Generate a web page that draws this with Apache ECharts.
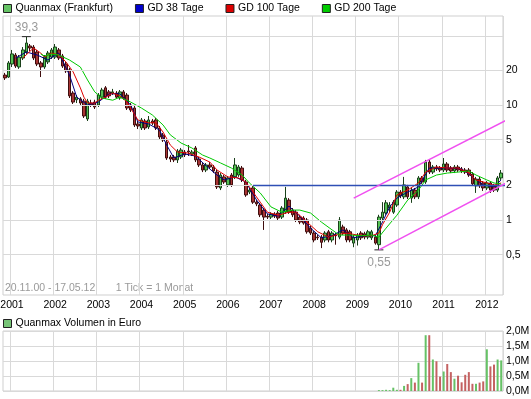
<!DOCTYPE html>
<html>
<head>
<meta charset="utf-8">
<script src="https://cdn.jsdelivr.net/npm/echarts@6.0.0/dist/echarts.min.js"></script>
<style>
    html, body { margin: 0; padding: 0; background: #fff; }
    #main { width: 531px; height: 399px; }
</style>
</head>
<body>
<div id="main"></div>
<script>
// Quanmax (Frankfurt), Monatskerzen 11/2000 - 05/2012: [Eroeffnung, Schluss, Tief, Hoch]
var candles = [
    [18.2, 17.2, 16.5, 19.0], [17.5, 23.2, 17.2, 24.1],
    // 2001
    [22.7, 27.8, 21.4, 30.1], [27.2, 21.8, 21.0, 28.3], [21.4, 26.1, 20.6, 27.2], [25.6, 30.1, 24.6, 31.9],
    [28.9, 34.6, 27.8, 39.3], [32.6, 31.3, 29.5, 33.9], [31.9, 25.6, 24.6, 33.2], [28.9, 22.7, 21.8, 30.1],
    [23.2, 21.4, 17.5, 24.1], [21.4, 26.1, 20.6, 27.2], [23.7, 28.3, 22.7, 29.5], [26.1, 30.1, 25.1, 31.3],
    // 2002
    [26.1, 31.9, 25.1, 33.9], [30.1, 25.6, 24.6, 31.3], [26.7, 21.8, 21.0, 27.8], [22.7, 19.8, 19.0, 23.7],
    [20.2, 12.0, 11.5, 21.0], [12.7, 10.6, 10.2, 13.2], [11.1, 11.7, 10.4, 12.2], [11.3, 10.4, 10.0, 11.7],
    [10.8, 8.02, 7.71, 11.3], [7.56, 10.8, 7.26, 11.3], [10.4, 10.0, 9.61, 11.1], [10.6, 9.61, 9.23, 11.1],
    // 2003
    [10.0, 12.2, 9.61, 12.7], [11.7, 13.5, 11.3, 14.1], [14.1, 11.7, 11.3, 14.6], [13.0, 12.0, 11.5, 13.5],
    [12.7, 13.0, 12.2, 13.8], [12.7, 11.7, 11.3, 13.2], [11.5, 13.0, 11.1, 13.5], [13.0, 11.5, 11.1, 13.5],
    [12.2, 9.42, 9.05, 12.7], [10.0, 9.05, 8.69, 10.4], [9.42, 6.70, 6.44, 9.80], [6.84, 6.57, 6.18, 7.26],
    // 2004
    [6.31, 7.41, 6.06, 7.71], [7.26, 6.31, 6.06, 7.56], [6.44, 7.41, 6.18, 8.02], [7.26, 6.97, 6.70, 7.56],
    [7.41, 6.31, 6.06, 7.71], [6.31, 5.27, 5.06, 6.57], [5.48, 4.96, 4.77, 5.71], [4.77, 3.46, 3.33, 4.96],
    [3.53, 3.39, 3.19, 3.68], [3.53, 3.33, 3.19, 3.68], [3.33, 3.98, 3.13, 4.14], [3.53, 4.06, 3.39, 4.23],
    // 2005
    [3.90, 3.68, 3.53, 4.06], [3.98, 3.90, 3.60, 4.49], [3.75, 3.90, 3.60, 4.06], [4.23, 3.33, 3.19, 4.40],
    [3.39, 3.01, 2.89, 3.53], [3.01, 2.72, 2.61, 3.13], [2.72, 3.01, 2.61, 3.13], [3.01, 2.89, 2.78, 3.19],
    [2.89, 2.67, 2.56, 3.01], [2.61, 1.94, 1.86, 2.72], [1.90, 2.46, 1.82, 2.56], [2.37, 2.14, 2.06, 2.46],
    // 2006
    [2.02, 2.32, 1.94, 2.41], [2.46, 2.02, 1.94, 2.56], [2.37, 3.01, 2.27, 3.46], [2.46, 2.89, 2.37, 3.01],
    [2.83, 2.23, 2.14, 2.95], [2.14, 1.65, 1.59, 2.23], [1.75, 1.82, 1.68, 1.90], [1.90, 1.43, 1.38, 1.98],
    [1.43, 1.38, 1.32, 1.49], [1.35, 1.11, 1.06, 1.41], [1.22, 1.06, 0.82, 1.27], [1.08, 1.06, 1.02, 1.13],
    // 2007
    [1.06, 1.13, 1.02, 1.17], [1.13, 1.08, 1.04, 1.17], [1.15, 1.04, 1.00, 1.20], [1.06, 1.27, 1.02, 1.32],
    [1.17, 1.55, 1.13, 1.94], [1.49, 1.17, 1.13, 1.55], [1.22, 1.11, 1.06, 1.27], [1.17, 1.00, 0.96, 1.22],
    [1.06, 0.96, 0.92, 1.11], [1.04, 0.94, 0.91, 1.08], [1.00, 0.79, 0.76, 1.04], [0.85, 0.77, 0.74, 0.89],
    // 2008
    [0.77, 0.67, 0.64, 0.80], [0.71, 0.70, 0.67, 0.74], [0.71, 0.64, 0.57, 0.74], [0.67, 0.77, 0.64, 0.80],
    [0.79, 0.67, 0.64, 0.82], [0.67, 0.77, 0.64, 0.80], [0.74, 0.73, 0.61, 0.77], [0.71, 1.00, 0.68, 1.06],
    [0.87, 0.77, 0.74, 0.91], [0.82, 0.67, 0.64, 0.85], [0.79, 0.67, 0.64, 0.82], [0.63, 0.71, 0.58, 0.74],
    // 2009
    [0.67, 0.74, 0.60, 0.77], [0.77, 0.70, 0.67, 0.80], [0.76, 0.71, 0.68, 0.79], [0.71, 0.79, 0.68, 0.82],
    [0.70, 0.79, 0.67, 0.82], [0.71, 0.63, 0.61, 0.74], [0.61, 1.06, 0.55, 1.11], [1.04, 1.17, 1.00, 1.43],
    [1.15, 1.41, 1.11, 1.49], [1.27, 1.35, 1.17, 1.43], [1.17, 1.43, 1.13, 1.49], [1.35, 1.75, 1.30, 1.82],
    // 2010
    [1.75, 1.62, 1.55, 1.82], [1.59, 2.02, 1.52, 2.37], [1.94, 1.59, 1.52, 2.02], [1.55, 1.82, 1.41, 1.90],
    [1.82, 1.59, 1.52, 1.90], [1.59, 2.32, 1.52, 2.41], [2.32, 2.14, 2.06, 2.41], [2.14, 3.19, 2.06, 3.33],
    [3.19, 2.61, 2.51, 3.33], [2.61, 2.89, 2.51, 3.01], [2.89, 2.78, 2.67, 3.01], [2.83, 2.72, 2.61, 2.95],
    // 2011
    [2.72, 3.07, 2.61, 3.46], [3.07, 2.72, 2.61, 3.19], [2.83, 2.67, 2.56, 2.95], [2.67, 2.89, 2.56, 3.01],
    [2.89, 2.72, 2.61, 3.01], [2.78, 2.67, 2.56, 2.89], [2.72, 2.61, 2.51, 2.83], [2.72, 2.46, 2.37, 2.83],
    [2.51, 2.06, 1.98, 2.61], [1.98, 2.27, 1.72, 2.37], [2.27, 1.98, 1.90, 2.37], [2.10, 1.90, 1.79, 2.18],
    // 2012
    [1.90, 2.10, 1.82, 2.18], [2.10, 1.82, 1.72, 2.18], [1.98, 1.82, 1.75, 2.06], [1.82, 2.32, 1.75, 2.41],
    [2.32, 2.56, 2.23, 2.72]
];

// Umsatz in Mio. Euro, ab 07/2009
var volumeFrom = '2009-07';
var volume = [0.03, 0.03, 0.04, 0.03, 0.11, 0.04, 0.04, 0.17, 0.23, 0.43, 0.28, 0.94, 0.28, 1.86, 1.86,
    1.05, 0.99, 0.48, 0.65, 0.90, 0.63, 0.41, 0.51, 0.29, 0.54, 0.63, 0.24, 0.24, 0.28, 0.32, 1.39,
    0.82, 0.88, 1.05, 1.02];

// gleitende Durchschnitte: [Monatsindex, Kurs]
var gd38 = [[3, 25.6], [6, 28.9], [9, 27.2], [12, 24.6], [15, 28.3], [18, 18.2], [20, 11.7], [23, 10.0],
    [26, 10.6], [29, 12.5], [32, 12.5], [35, 10.0], [37, 7.12], [40, 6.84], [43, 6.06], [45, 4.49],
    [47, 3.46], [50, 3.75], [53, 3.60], [56, 2.95], [59, 2.46], [61, 2.23], [64, 2.37], [67, 2.14],
    [70, 1.49], [73, 1.13], [76, 1.08], [79, 1.32], [82, 1.08], [85, 0.85], [88, 0.70], [91, 0.73],
    [94, 0.82], [97, 0.70], [100, 0.73], [103, 0.73], [105, 0.96], [107, 1.30], [109, 1.55], [112, 1.75],
    [115, 1.94], [118, 2.83], [121, 2.83], [124, 2.83], [127, 2.78], [130, 2.37], [133, 2.02], [136, 1.94],
    [138, 2.23]];
var gd100 = [[5, 25.6], [8, 31.3], [10, 28.3], [11, 26.1], [13, 28.3], [15, 27.2], [17, 23.7], [19, 19.4],
    [21, 14.1], [22, 11.7], [23, 10.4], [25, 10.4], [26, 11.0], [28, 11.7], [30, 12.7], [32, 12.0],
    [34, 10.6], [35, 9.4], [37, 7.4], [40, 7.0], [42, 7.0], [44, 5.82], [46, 4.49], [48, 3.90], [51, 3.82],
    [54, 3.53], [57, 3.19], [59, 2.72], [62, 2.37], [65, 2.32], [67, 2.14], [68, 1.94], [71, 1.43],
    [73, 1.17], [76, 1.10], [79, 1.17], [81, 1.17], [84, 0.96], [87, 0.79], [90, 0.71], [92, 0.74],
    [95, 0.77], [98, 0.74], [100, 0.73], [102, 0.73], [104, 0.77], [105, 0.91], [107, 1.17], [109, 1.65],
    [112, 1.82], [115, 2.10], [117, 2.61], [120, 2.89], [123, 2.83], [126, 2.83], [129, 2.56], [131, 2.23],
    [134, 2.10], [136, 2.01], [138, 2.10]];
var gd200 = [[10, 27.7], [11, 26.7], [13, 27.7], [15, 27.2], [18, 24.6], [21, 21.4], [23, 16.5], [25, 13.0],
    [27, 11.5], [30, 11.0], [32, 11.7], [35, 10.6], [38, 9.4], [41, 8.2], [44, 6.7], [46, 5.5], [49, 4.67],
    [52, 4.23], [55, 3.67], [57, 3.46], [60, 3.13], [63, 2.83], [66, 2.46], [68, 2.10], [71, 1.72],
    [74, 1.30], [77, 1.17], [80, 1.22], [82, 1.22], [85, 1.15], [88, 0.96], [91, 0.82], [93, 0.74],
    [96, 0.74], [99, 0.73], [102, 0.74], [104, 0.71], [106, 0.85], [109, 1.10], [112, 1.49], [115, 1.82],
    [117, 2.23], [120, 2.46], [123, 2.56], [126, 2.61], [129, 2.67], [131, 2.46], [134, 2.23], [136, 2.10],
    [138, 2.05]];

// eingezeichnete Linien: Unterstuetzung und Trendkanal
var support = [[69, 2.0], [144, 2.0]];
var channelTop = [[97, 1.55], [140, 7.52]];
var channelBottom = [[104, 0.55], [148, 2.91]];

var priceGrid = [0.5, 1, 2, 5, 10, 20, 40];
var priceLabels = [0.5, 1, 2, 5, 10, 20];

var FONT = 'Liberation Sans';
var FS = 10.5;

// Monatsachse
var months = [];
{
    var yr = 2000, mo = 11;
    for (var i = 0; i < candles.length; i++) {
        months.push(yr + '-' + (mo < 10 ? '0' + mo : mo));
        mo++;
        if (mo > 12) { mo = 1; yr++; }
    }
}
var volData = months.map(function () { return null; });
var vStart = months.indexOf(volumeFrom);
volume.forEach(function (v, i) { volData[vStart + i] = v; });

function isJan(idx, val) { return val.slice(5) === '01'; }
function comma(v) { return String(v).replace('.', ','); }

var dom = document.getElementById('main');
var myChart = echarts.init(dom);

var option = {
    animation: false,
    textStyle: { fontFamily: FONT },
    legend: [{
        left: 3, top: 3, padding: 0, itemWidth: 8, itemHeight: 8, itemGap: 22, icon: 'rect',
        selectedMode: false,
        itemStyle: { borderColor: '#222', borderWidth: 1 },
        textStyle: { fontFamily: FONT, fontSize: FS, color: '#000', padding: [0, 0, 0, -1] },
        data: [
            { name: 'Quanmax (Frankfurt)', itemStyle: { color: '#66c466' } },
            { name: 'GD 38 Tage', itemStyle: { color: '#0000cc' } },
            { name: 'GD 100 Tage', itemStyle: { color: '#dd0000' } },
            { name: 'GD 200 Tage', itemStyle: { color: '#00cc00' } }
        ]
    }, {
        left: 3, top: 318, padding: 0, itemWidth: 8, itemHeight: 8, icon: 'rect',
        selectedMode: false,
        itemStyle: { borderColor: '#222', borderWidth: 1 },
        textStyle: { fontFamily: FONT, fontSize: FS, color: '#000', padding: [0, 0, 0, -1] },
        data: [{ name: 'Quanmax Volumen in Euro', itemStyle: { color: '#77c477' } }]
    }],
    grid: [
        { left: 3, top: 16, width: 500, height: 279, show: true, borderColor: '#cfcfcf', outerBoundsMode: 'none' },
        { left: 3, top: 331, width: 500, height: 60, show: true, borderColor: '#cfcfcf', outerBoundsMode: 'none' }
    ],
    xAxis: [{
        type: 'category', gridIndex: 0, data: months, boundaryGap: true,
        axisLine: { show: false }, axisTick: { show: false },
        axisLabel: {
            interval: isJan, margin: 5, color: '#000', fontFamily: FONT, fontSize: FS,
            formatter: function (v) { return v.slice(0, 4); }
        },
        splitLine: { show: true, interval: isJan, lineStyle: { color: '#d9d9d9', width: 1 } }
    }, {
        type: 'category', gridIndex: 1, data: months, boundaryGap: true,
        axisLine: { show: false }, axisTick: { show: false }, axisLabel: { show: false },
        splitLine: { show: true, interval: isJan, lineStyle: { color: '#d9d9d9', width: 1 } }
    }],
    yAxis: [{
        type: 'log', gridIndex: 0, logBase: 10, min: 0.2228, max: 59.4,
        axisLine: { show: false }, axisTick: { show: false }, axisLabel: { show: false },
        splitLine: { show: false }
    }, {
        type: 'value', gridIndex: 1, position: 'right', min: 0, max: 2, interval: 0.5,
        axisLine: { show: false }, axisTick: { show: false },
        axisLabel: {
            margin: 3, color: '#000', fontFamily: FONT, fontSize: FS,
            formatter: function (v) { return v.toFixed(1).replace('.', ',') + 'M'; }
        },
        splitLine: { lineStyle: { color: '#d9d9d9', width: 1 } }
    }],
    graphic: [{
        type: 'text', left: 5, top: 283, silent: true,
        style: { text: '20.11.00 - 17.05.12       1 Tick = 1 Monat', fill: '#9a9a9a', font: FS + 'px ' + FONT }
    }],
    series: [{
        // Raster und Beschriftung der logarithmischen Kursachse
        type: 'line', name: 'raster', xAxisIndex: 0, yAxisIndex: 0, data: [], silent: true, z: 1,
        markLine: {
            silent: true, symbol: ['none', 'none'], animation: false,
            lineStyle: { color: '#d9d9d9', width: 1, type: 'solid' },
            label: { position: 'end', distance: 3, color: '#000', fontFamily: FONT, fontSize: FS },
            emphasis: { disabled: true },
            data: priceGrid.map(function (v) {
                return { yAxis: v, label: { show: priceLabels.indexOf(v) >= 0, formatter: comma(v) } };
            })
        }
    }, {
        type: 'candlestick', name: 'Quanmax (Frankfurt)', xAxisIndex: 0, yAxisIndex: 0,
        data: candles, barWidth: 3, z: 3,
        itemStyle: {
            color: '#55c255', color0: '#a83434',
            borderColor: '#1a401a', borderColor0: '#3f0e0e', borderWidth: 1
        },
        markPoint: {
            symbol: 'rect', symbolSize: [9, 1], silent: true,
            itemStyle: { color: '#222' },
            label: { color: '#9a9a9a', fontFamily: FONT, fontSize: 12, formatter: function (p) { return comma(p.value); } },
            data: [
                { type: 'max', valueDim: 'highest', label: { position: 'top', distance: 2 } },
                { type: 'min', valueDim: 'lowest', label: { position: 'bottom', distance: 6 } }
            ]
        }
    }, {
        type: 'line', name: 'GD 38 Tage', xAxisIndex: 0, yAxisIndex: 0, data: gd38, z: 4,
        showSymbol: false, lineStyle: { color: '#000080', width: 1 }, itemStyle: { color: '#0000cc' }
    }, {
        type: 'line', name: 'GD 100 Tage', xAxisIndex: 0, yAxisIndex: 0, data: gd100, z: 4,
        showSymbol: false, lineStyle: { color: '#e00000', width: 1 }, itemStyle: { color: '#dd0000' }
    }, {
        type: 'line', name: 'GD 200 Tage', xAxisIndex: 0, yAxisIndex: 0, data: gd200, z: 4,
        showSymbol: false, lineStyle: { color: '#00c800', width: 1 }, itemStyle: { color: '#00cc00' }
    }, {
        type: 'line', name: 'Unterstuetzung', xAxisIndex: 0, yAxisIndex: 0, data: support, z: 5,
        clip: false, showSymbol: false, lineStyle: { color: '#2f4fb5', width: 1.5 }
    }, {
        type: 'line', name: 'Kanal oben', xAxisIndex: 0, yAxisIndex: 0, data: channelTop, z: 5,
        clip: false, showSymbol: false, lineStyle: { color: '#f050f0', width: 1.5 }
    }, {
        type: 'line', name: 'Kanal unten', xAxisIndex: 0, yAxisIndex: 0, data: channelBottom, z: 5,
        clip: false, showSymbol: false, lineStyle: { color: '#f050f0', width: 1.5 }
    }, {
        type: 'bar', name: 'Quanmax Volumen in Euro', xAxisIndex: 1, yAxisIndex: 1,
        data: volData, barWidth: 2,
        itemStyle: {
            color: function (p) {
                var c = candles[p.dataIndex];
                return c[1] >= c[0] ? '#66c266' : '#c46262';
            }
        }
    }]
};

if (option && typeof option === "object") {
    myChart.setOption(option, true);
}
</script>
</body>
</html>
